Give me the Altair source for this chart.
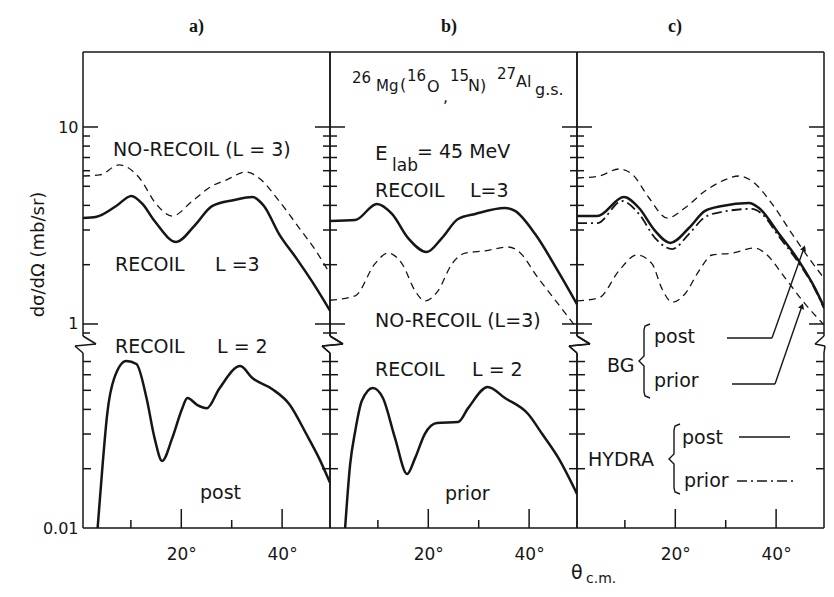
import math
import altair as alt
import pandas as pd

# ---------------- values ----------------
# panel a) post
A_REC3_X = [0.5, 3.2, 7.1, 10.1, 12.3, 14.7, 19.0, 22.6, 26.1, 30.5, 34.1, 36.4, 39.4, 42.8, 45.9, 49.5]
A_REC3_Y = [3.45, 3.50, 3.97, 4.47, 4.07, 3.33, 2.61, 3.15, 3.97, 4.26, 4.41, 3.97, 2.86, 2.16, 1.65, 1.17]
A_NOREC_X = [0.5, 3.8, 7.7, 11.7, 15.0, 18.2, 22.2, 26.1, 28.9, 32.9, 35.4, 39.4, 43.4, 46.7, 49.5]
A_NOREC_Y = [5.64, 5.71, 6.42, 5.51, 4.07, 3.53, 4.21, 5.02, 5.38, 5.91, 5.51, 4.21, 3.07, 2.35, 1.80]
A_L2_X = [3.4, 4.4, 5.3, 6.7, 9.1, 11.1, 13.1, 14.7, 16.2, 18.2, 20.2, 21.2, 23.2, 25.1, 27.5, 31.7,
          34.1, 38.0, 41.4, 44.8, 47.3, 49.5]
A_L2_Y = [0.0100, 0.0211, 0.0379, 0.0577, 0.0705, 0.0680, 0.0457, 0.0286, 0.0219, 0.0286, 0.0406,
          0.0457, 0.0421, 0.0406, 0.0508, 0.0664, 0.0577, 0.0508, 0.0426, 0.0300, 0.0227, 0.0170]

# panel b) prior
B_REC3_X = [0.5, 5.5, 9.8, 12.8, 16.0, 19.7, 22.7, 25.9, 29.3, 35.2, 37.2, 41.2, 45.7, 49.5]
B_REC3_Y = [3.33, 3.37, 4.07, 3.62, 2.73, 2.32, 2.73, 3.41, 3.62, 3.88, 3.75, 2.86, 1.86, 1.26]
B_NOREC_X = [0.5, 5.5, 9.4, 12.0, 14.8, 17.4, 19.3, 21.9, 24.7, 27.3, 31.3, 35.8, 37.8, 41.8, 45.8, 49.5]
B_NOREC_Y = [1.32, 1.39, 2.02, 2.29, 2.02, 1.47, 1.31, 1.47, 2.02, 2.29, 2.35, 2.46, 2.35, 1.71, 1.26, 0.95]
B_L2_X = [3.5, 4.5, 5.5, 6.8, 9.0, 11.0, 13.4, 15.8, 17.4, 19.3, 21.7, 25.9, 27.9, 31.8, 35.2, 39.8,
          42.6, 45.8, 49.5]
B_L2_Y = [0.0100, 0.0211, 0.0310, 0.0441, 0.0514, 0.0457, 0.0286, 0.0188, 0.0227, 0.0300, 0.0341,
          0.0345, 0.0406, 0.0520, 0.0457, 0.0379, 0.0300, 0.0227, 0.0149]

# panel c) BG / HYDRA
C_BGPOST_X = [0.5, 4.9, 8.8, 11.4, 14.8, 18.4, 21.9, 25.9, 29.3, 32.6, 35.2, 39.2, 43.2, 46.5, 49.5]
C_BGPOST_Y = [5.51, 5.64, 6.12, 5.77, 4.36, 3.45, 3.88, 4.73, 5.32, 5.64, 5.32, 4.07, 2.86, 2.16, 1.71]
C_BGPRIOR_X = [0.5, 4.9, 8.8, 12.4, 15.4, 17.3, 19.4, 21.9, 24.7, 27.3, 31.3, 35.8, 37.8, 41.8, 45.8, 49.5]
C_BGPRIOR_Y = [1.31, 1.36, 1.86, 2.24, 2.02, 1.52, 1.29, 1.42, 1.86, 2.24, 2.29, 2.43, 2.29, 1.71, 1.26, 0.99]
C_HPOST_X = [0.5, 4.5, 9.8, 12.8, 16.0, 19.0, 22.7, 25.9, 29.3, 34.6, 36.6, 40.6, 44.5, 47.7, 49.5]
C_HPOST_Y = [3.53, 3.53, 4.41, 3.88, 2.97, 2.58, 3.07, 3.75, 3.97, 4.11, 3.88, 2.86, 2.09, 1.52, 1.22]
C_HPRIOR_X = [0.5, 4.5, 9.4, 12.8, 16.0, 19.4, 22.7, 25.9, 29.3, 35.2, 37.2, 40.6, 44.5, 47.7, 49.5]
C_HPRIOR_Y = [3.25, 3.25, 4.21, 3.62, 2.73, 2.40, 2.86, 3.49, 3.71, 3.84, 3.62, 2.77, 2.04, 1.50, 1.20]

# axis ticks / labels
Y_MAJOR = [10, 1]
Y_MINOR_UP = [2, 3, 4, 5, 6, 7, 8, 9, 0.9]
Y_MINOR_LO = [0.02, 0.03, 0.04, 0.05, 0.06, 0.07]
X_MAJOR = [20, 40]
X_MINOR = [10, 30]

# ---------------- geometry ----------------
W, H = 247, 476
XMIN, XMAX = 0.5, 49.5
YMIN, YMAX = 0.0921, 24.03
F = YMIN / 0.01          # the lower (broken) part of the axis: 0.01 sits on the bottom edge
LT, LB = math.log10(YMAX), math.log10(YMIN)
PPD = W / (XMAX - XMIN)  # pixels per degree
INK = "#161616"
FONT = "DejaVu Sans"


def xd(px):
    return XMIN + px / PPD


def yd(py):
    return 10 ** (LT - py * (LT - LB) / H)


xs = alt.Scale(domain=[XMIN, XMAX], nice=False, zero=False)
ys = alt.Scale(type="log", domain=[YMIN, YMAX], nice=False)

XAX = alt.Axis(values=X_MAJOR, labelExpr="datum.value + '°'", ticks=False, domain=False,
               grid=False, title=None, labelFont=FONT, labelFontSize=17, labelColor=INK,
               labelPadding=18)
YAX = alt.Axis(values=[YMIN, 1, 10],
               labelExpr="datum.value > 5 ? '10' : (datum.value > 0.5 ? '1' : '0.01')",
               ticks=False, domain=False, grid=False, title="dσ/dΩ (mb/sr)",
               labelFont=FONT, labelFontSize=16, labelColor=INK, labelPadding=5,
               titleFont=FONT, titleFontSize=18, titleFontWeight="normal", titleColor=INK,
               titleX=-45, titleY=202, titleAlign="center", titleBaseline="middle")


def enc(chart, yaxis):
    return chart.encode(
        x=alt.X("x:Q", scale=xs, axis=XAX),
        y=alt.Y("y:Q", scale=ys, axis=YAX if yaxis else None),
    )


def curves(series, yaxis, dash=None, width=2.5):
    df = pd.concat([pd.DataFrame({"x": sx, "y": [v * f for v in sy], "s": n})
                    for n, sx, sy, f in series], ignore_index=True)
    kw = dict(interpolate="monotone", clip=True, color=INK, strokeWidth=width)
    if dash:
        kw["strokeDash"] = dash
    return enc(alt.Chart(df).mark_line(**kw), yaxis).encode(detail="s:N")


def rules(rows, yaxis, dash=None, width=1.5):
    df = pd.DataFrame(rows, columns=["x", "x2", "y", "y2"])
    kw = dict(color=INK, strokeWidth=width)
    if dash:
        kw["strokeDash"] = dash
    return enc(alt.Chart(df).mark_rule(**kw), yaxis).encode(x2="x2:Q", y2="y2:Q")


def frame_rows(outer_right=False):
    rows = [(XMIN, XMAX, YMAX, YMAX), (XMIN, XMAX, YMIN, YMIN)]
    BT, BB = 284, 301
    for xe, x0, sgn in ((XMIN, 0, 1), (XMAX, W, -1)):
        rows.append((xe, xe, YMAX, yd(BT)))
        rows.append((xe, xe, yd(BB), YMIN))
        if outer_right and sgn == -1:
            pts = [(x0, BT), (x0 - 9, 292), (x0 + 1, 294), (x0, BB)]
        else:
            pts = [(x0, BT), (x0 + 13, 292), (x0 - 8, 294), (x0, BB)]
        for p1, p2 in zip(pts[:-1], pts[1:]):
            rows.append((xd(p1[0]), xd(p2[0]), yd(p1[1]), yd(p2[1])))
        for v in Y_MAJOR:
            rows.append((xe, xe + sgn * 15 / PPD, v, v))
        for v in Y_MINOR_UP:
            rows.append((xe, xe + sgn * 7 / PPD, v, v))
        for v in Y_MINOR_LO:
            rows.append((xe, xe + sgn * 8 / PPD, v * F, v * F))
    for v in X_MAJOR:
        rows.append((v, v, YMIN, yd(H - 19)))
    for v in X_MINOR:
        rows.append((v, v, YMIN, yd(H - 8)))
    return rows


def texts(items, yaxis, font=FONT, weight="normal"):
    df = pd.DataFrame([{"x": xd(px), "y": yd(py), "t": t, "fs": fs} for t, px, py, fs in items])
    return enc(alt.Chart(df).mark_text(align="left", baseline="middle", font=font,
                                       fontWeight=weight, color=INK), yaxis).encode(
        text="t:N",
        size=alt.Size("fs:Q", scale=None, legend=None),
    )


def title(t, px, yaxis):
    return texts([(t, px, -25, 18)], yaxis, font="Liberation Serif", weight="bold")


DASH = [7, 5]

# ---------- panel a ----------
panel_a = alt.layer(
    curves([("rec3", A_REC3_X, A_REC3_Y, 1.0), ("l2", A_L2_X, A_L2_Y, F)], True),
    curves([("norec", A_NOREC_X, A_NOREC_Y, 1.0)], True, dash=DASH, width=1.3),
    rules(frame_rows(), True),
    texts([("NO-RECOIL (L = 3)", 30, 98, 19), ("RECOIL", 32, 213, 19), ("L =3", 132, 213, 19),
           ("RECOIL", 32, 295, 19), ("L = 2", 134, 295, 19), ("post", 117, 441, 19)], True),
    title("a)", 106, True),
).properties(width=W, height=H)

# ---------- panel b ----------
panel_b = alt.layer(
    curves([("rec3", B_REC3_X, B_REC3_Y, 1.0), ("l2", B_L2_X, B_L2_Y, F)], False),
    curves([("norec", B_NOREC_X, B_NOREC_Y, 1.0)], False, dash=DASH, width=1.3),
    rules(frame_rows(), False),
    texts([("26", 22, 26, 15), ("Mg", 46, 34, 15), ("(", 70, 33, 16), ("16", 77, 24, 15),
           ("O", 97, 35, 16), (",", 113, 45, 16), ("15", 120, 24, 15), ("N)", 138, 34, 16),
           ("27", 167, 22, 15), ("Al", 186, 30, 16), ("g.s.", 205, 38, 16),
           ("E", 45, 102, 20), ("lab", 62, 114, 17), ("= 45 MeV", 87, 100, 19),
           ("RECOIL", 45, 139, 19), ("L=3", 140, 139, 19),
           ("NO-RECOIL (L=3)", 45, 269, 19),
           ("RECOIL", 45, 318, 19), ("L = 2", 142, 318, 19), ("prior", 115, 442, 19)], False),
    title("b)", 111, False),
).properties(width=W, height=H)

# ---------- panel c ----------
conn_rows = [(xd(150), xd(195), yd(286), yd(286)), (xd(195), xd(227), yd(286), yd(196)),
             (xd(155), xd(198), yd(332), yd(332)), (xd(198), xd(225), yd(332), yd(254)),
             (xd(162), xd(213), yd(385), yd(385))]
heads = pd.DataFrame({"x": [xd(227), xd(225)], "y": [yd(196), yd(254)]})
arrowheads = enc(alt.Chart(heads).mark_point(shape="triangle-up", filled=True, size=40, angle=20,
                                             color=INK, opacity=1), False)


def brace(name, xe, xs_, xt, y0, ym, y1):
    pts = [(xe, y0), (xs_ + 1, y0 + 2), (xs_, y0 + 6), (xs_, ym - 5), (xt, ym), (xs_, ym + 5),
           (xs_, y1 - 6), (xs_ + 1, y1 - 2), (xe, y1)]
    return pd.DataFrame({"x": [xd(p[0]) for p in pts], "y": [yd(p[1]) for p in pts],
                         "o": list(range(len(pts))), "b": name})


braces_df = pd.concat([brace("bg", 73, 67, 62, 272, 309, 346),
                       brace("hy", 103, 97, 92, 372, 407, 442)], ignore_index=True)
braces = enc(alt.Chart(braces_df).mark_line(color=INK, strokeWidth=1.4, interpolate="linear"),
             False).encode(order="o:Q", detail="b:N")

panel_c = alt.layer(
    curves([("hpost", C_HPOST_X, C_HPOST_Y, 1.0)], False),
    curves([("hprior", C_HPRIOR_X, C_HPRIOR_Y, 1.0)], False, dash=[10, 4, 2, 4], width=1.8),
    curves([("bgpost", C_BGPOST_X, C_BGPOST_Y, 1.0), ("bgprior", C_BGPRIOR_X, C_BGPRIOR_Y, 1.0)],
           False, dash=DASH, width=1.3),
    rules(frame_rows(outer_right=True), False),
    rules(conn_rows, False, width=1.4),
    rules([(xd(160), xd(220), yd(429), yd(429))], False, dash=[10, 4, 2, 4], width=1.4),
    arrowheads,
    braces,
    texts([("BG", 30, 314, 19), ("post", 77, 285, 19), ("prior", 77, 329, 19),
           ("HYDRA", 11, 408, 19), ("post", 105, 386, 19), ("prior", 107, 429, 19),
           ("θ", -6, 521, 19), ("c.m.", 9, 527, 14)], False),
    title("c)", 91, False),
).properties(width=W, height=H)

chart = alt.HConcatChart(hconcat=[panel_a, panel_b, panel_c], spacing=0, bounds="flush").properties(
    padding={"left": 21, "top": 9, "right": 0, "bottom": 0}, background="white"
).configure_view(stroke=None)

chart.save("out.html", embed_options={"renderer": "svg", "actions": False})
